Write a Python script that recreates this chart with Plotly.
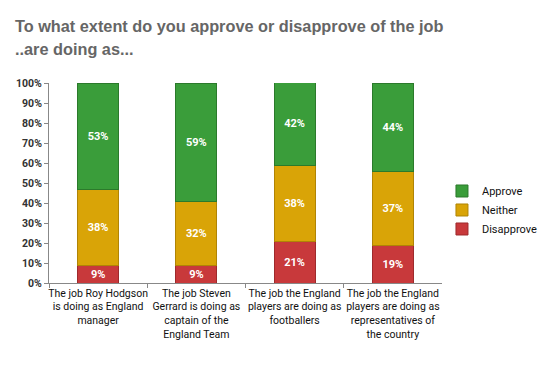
import plotly.graph_objects as go

categories = [
    "The job Roy Hodgson<br>is doing as England<br>manager",
    "The job Steven<br>Gerrard is doing as<br>captain of the<br>England Team",
    "The job the England<br>players are doing as<br>footballers",
    "The job the England<br>players are doing as<br>representatives of<br>the country",
]
disapprove = [9, 9, 21, 19]
neither = [38, 32, 38, 37]
approve = [53, 59, 42, 44]

series = [
    ("Disapprove", disapprove, "#c8393b", "#9e2a2c"),
    ("Neither", neither, "#d9a407", "#b08405"),
    ("Approve", approve, "#3a9d3a", "#2b7a2b"),
]

fig = go.Figure()
for name, vals, col, edge in series:
    fig.add_trace(go.Bar(
        name=name, x=categories, y=vals,
        marker=dict(color=col, line=dict(color=edge, width=1)),
        text=[f"<b>{v}%</b>" for v in vals], textposition="inside",
        insidetextanchor="middle", constraintext="none",
        textfont=dict(color="white", size=11, family="Roboto"),
        textangle=0, width=0.415,
    ))

# the page body adds an 8px offset, so the figure is sized to land on the reference layout
fig.update_layout(
    barmode="stack",
    width=542, height=362,
    margin=dict(l=41, r=97, t=75, b=87),
    paper_bgcolor="white", plot_bgcolor="white",
    showlegend=True,
    legend=dict(traceorder="reversed", xref="container", yref="container",
                x=0.8007, y=0.442, xanchor="left", yanchor="middle",
                font=dict(size=11, family="Roboto", color="#111"),
                itemwidth=30, tracegroupgap=0),
    font=dict(family="Roboto", color="#222"),
)
fig.update_yaxes(range=[0, 100], dtick=10, ticksuffix="%", showgrid=False, automargin=False,
                 showline=True, linecolor="#888", ticks="outside", ticklen=4, tickcolor="#888",
                 tickfont=dict(size=10.5, color="#333", family="Roboto", weight="bold"), zeroline=False)
fig.update_xaxes(showline=True, linecolor="#888", ticks="outside", ticklen=4, tickcolor="#888",
                 tickson="boundaries", tickfont=dict(size=10.5, color="#111", family="Roboto"),
                 tickangle=0, automargin=False)

fig.add_annotation(text="<b>To what extent do you approve or disapprove of the job</b>",
                   xref="paper", yref="paper", x=0, y=1, xanchor="left", yanchor="bottom",
                   showarrow=False, xshift=-36, yshift=46,
                   font=dict(size=16.3, color="#666", family="Liberation Sans"))
fig.add_annotation(text="<b>..are doing as...</b>", xref="paper", yref="paper",
                   x=0, y=1, showarrow=False, xanchor="left", yanchor="bottom",
                   xshift=-36, yshift=23,
                   font=dict(size=16.3, color="#666", family="Liberation Sans"))

fig.write_html("out.html")
